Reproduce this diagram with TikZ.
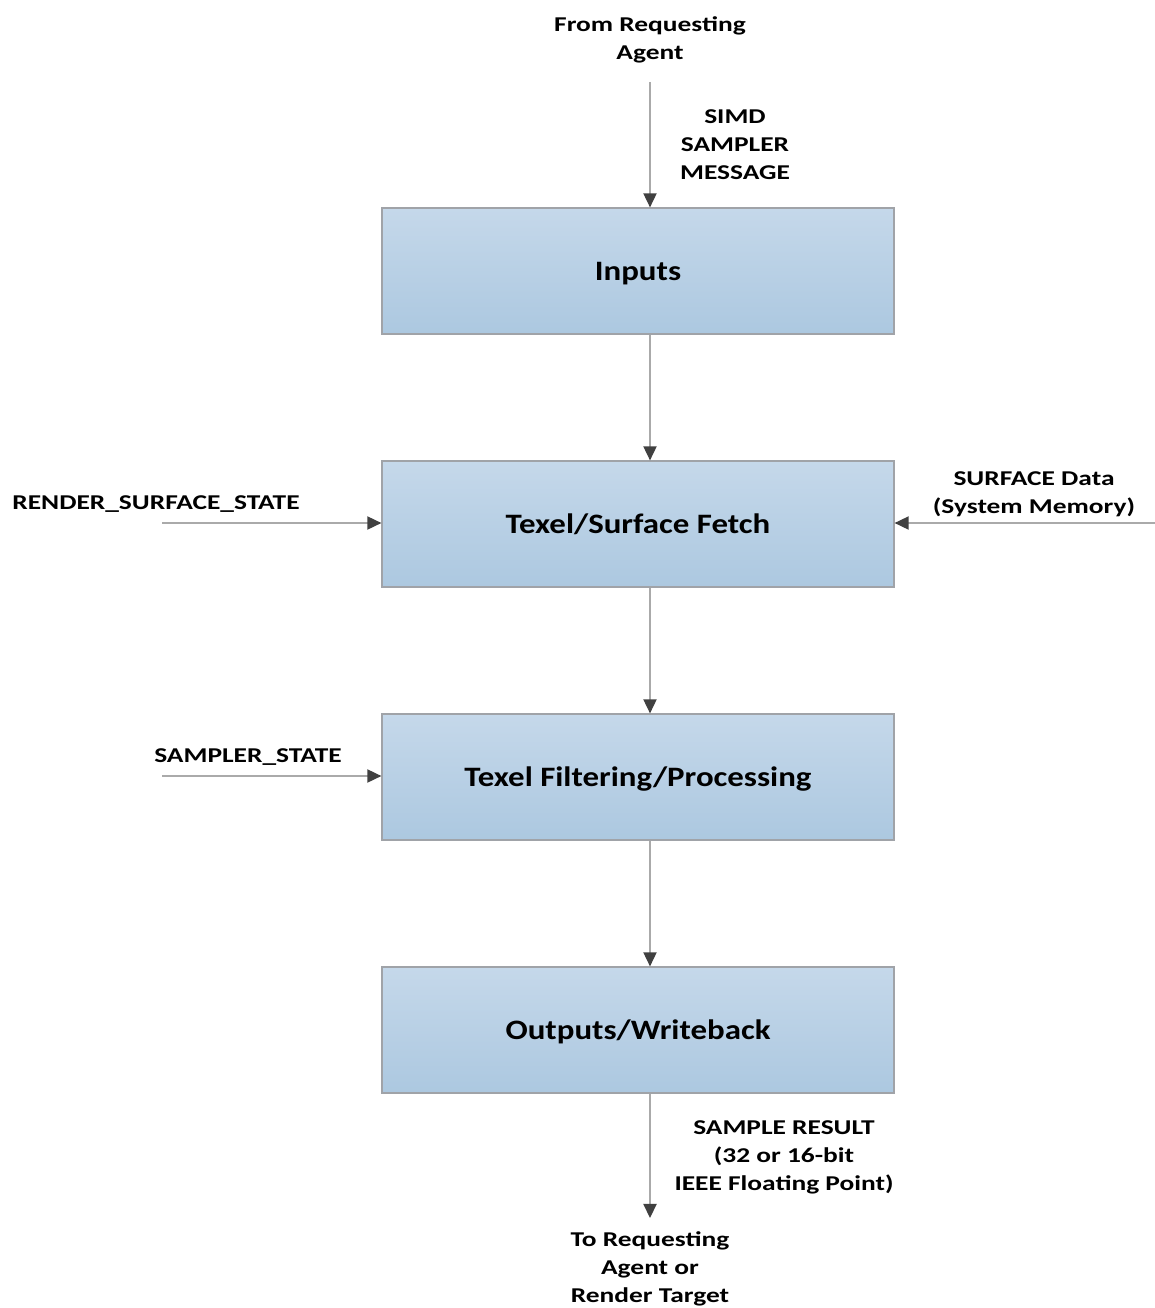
\documentclass[tikz,border=0pt]{standalone}
\usepackage{fontspec}
\setmainfont{Carlito}
\newfontfamily\lblfont[FakeStretch=1.3]{Carlito}
\newfontfamily\stagefont[FakeStretch=1.17]{Carlito}
\usetikzlibrary{arrows.meta,positioning}
\definecolor{boxtop}{RGB}{197,216,234}
\definecolor{boxbot}{RGB}{172,200,224}
\definecolor{boxline}{RGB}{160,163,168}
\definecolor{wire}{RGB}{170,170,170}
\definecolor{tipcol}{RGB}{64,64,64}

\begin{document}
\begin{tikzpicture}[
    x=0.02cm, y=-0.02cm,
    every node/.style={font=\lblfont\fontsize{12}{15.9}\selectfont\bfseries, text=black},
    flow/.style={draw=wire, line width=0.8pt, -{Triangle[length=8pt, width=7.5pt, color=tipcol]}},
    stagebox/.style={draw=boxline, line width=0.7pt, top color=boxtop, bottom color=boxbot, text depth=0pt,
        minimum width=512*0.02cm, minimum height=126*0.02cm, font=\stagefont\fontsize{16}{19}\selectfont\bfseries},
    lbl/.style={align=center}
]
\useasboundingbox (0,0) rectangle (1155,1308);

\node[stagebox] (inputs) at (638,271) {Inputs};
\node[stagebox] (fetch) at (638,524) {Texel/Surface Fetch};
\node[stagebox] (filter) at (638,777) {Texel Filtering/Processing};
\node[stagebox] (outputs) at (638,1030) {Outputs/Writeback};

\node[lbl] (agentin) at (650,40) {From Requesting\\Agent};
\node[lbl] (simdmsg) at (735,145) {SIMD\\SAMPLER\\MESSAGE};
\node[lbl] (rss) at (156,504) {RENDER\_SURFACE\_STATE};
\node[lbl] (surfdata) at (1034,494) {SURFACE Data\\(System Memory)};
\node[lbl] (sstate) at (248,757) {SAMPLER\_STATE};
\node[lbl] (result) at (784,1157) {SAMPLE RESULT\\(32 or 16-bit\\IEEE Floating Point)};
\node[lbl] (agentout) at (650,1269) {To Requesting\\Agent or\\Render Target};

\coordinate (src) at (650,82);
\coordinate (dst) at (650,1218);
\coordinate (rssend) at (162,523);
\coordinate (memend) at (1155,523);
\coordinate (ssend) at (162,776);

\draw[flow] (src) -- (src |- inputs.north);
\draw[flow] (src |- inputs.south) -- (src |- fetch.north);
\draw[flow] (src |- fetch.south) -- (src |- filter.north);
\draw[flow] (src |- filter.south) -- (src |- outputs.north);
\draw[flow] (src |- outputs.south) -- (dst);
\draw[flow] (rssend) -- (rssend -| fetch.west);
\draw[flow] (memend) -- (memend -| fetch.east);
\draw[flow] (ssend) -- (ssend -| filter.west);
\end{tikzpicture}
\end{document}
